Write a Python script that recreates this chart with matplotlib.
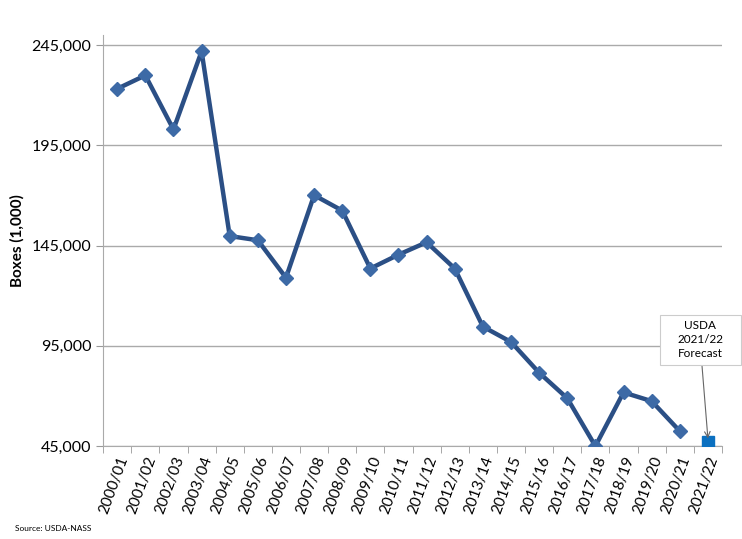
import matplotlib
matplotlib.use('Agg')
import matplotlib.pyplot as plt
from matplotlib.patches import Rectangle
import numpy as np

seasons = ['2000/01', '2001/02', '2002/03', '2003/04', '2004/05', '2005/06',
           '2006/07', '2007/08', '2008/09', '2009/10', '2010/11', '2011/12',
           '2012/13', '2013/14', '2014/15', '2015/16', '2016/17', '2017/18',
           '2018/19', '2019/20', '2020/21', '2021/22']
boxes = [223300, 230000, 203000, 242000, 149800, 147700, 129000, 170200,
         162500, 133600, 140500, 146700, 133600, 104600, 96950, 81600,
         68850, 44950, 71750, 67400, 52450]
forecast = 47000
yticks = [45000, 95000, 145000, 195000, 245000]

plt.rcParams['font.family'] = ['Lato', 'DejaVu Sans']

fig = plt.figure(figsize=(7.42, 5.39), dpi=100)
ax = fig.add_axes([0.139, 0.1725, 0.834, 0.762])

x = np.arange(len(seasons))
ax.plot(x[:len(boxes)], boxes, color='#2b4f85', lw=3.2, marker='D',
        markersize=7, markerfacecolor='#3d6aa6', markeredgecolor='#3d6aa6',
        zorder=3)
ax.plot(x[-1], forecast, marker='s', markersize=8, color='#0b70c0',
        linestyle='none', zorder=3)

ax.set_xlim(-0.5, len(seasons) - 0.5)
ax.set_ylim(45000, 250000)
ax.set_yticks(yticks)
ax.set_yticklabels([f'{v:,}' for v in yticks], fontsize=11.5)
ax.set_xticks(x)
ax.set_xticklabels(seasons, rotation=70, fontsize=11, ha='right',
                   rotation_mode='anchor')
ax.set_xticks(np.arange(-0.5, len(seasons)), minor=True)
ax.tick_params(axis='x', which='major', length=0, pad=6)
ax.tick_params(axis='x', which='minor', length=5, color='#999999')
ax.tick_params(axis='y', length=5, color='#999999')
ax.yaxis.grid(True, color='#aaaaaa', lw=1)
ax.set_axisbelow(True)
for s in ['top', 'right']:
    ax.spines[s].set_visible(False)
for s in ['left', 'bottom']:
    ax.spines[s].set_color('#aaaaaa')
ax.set_ylabel('Boxes (1,000)', fontsize=11, fontweight='bold', labelpad=5)

# forecast callout box
fig.patches.append(Rectangle((0.889, 0.323), 0.109, 0.093,
                             transform=fig.transFigure, fc='white',
                             ec='#cccccc', lw=0.8, zorder=5))
fig.text(0.9435, 0.3695, 'USDA\n2021/22\nForecast', ha='center', va='center',
         fontsize=8.5, linespacing=1.35, zorder=6)
ax.annotate('', xy=(x[-1], forecast + 1800),
            xytext=(0.946, 0.323), textcoords='figure fraction',
            arrowprops=dict(arrowstyle='->', color='#666666', lw=0.8,
                            shrinkA=0, shrinkB=0))

fig.text(0.02, 0.015, 'Source: USDA-NASS', fontsize=6)

plt.savefig('out.png', dpi=100)
